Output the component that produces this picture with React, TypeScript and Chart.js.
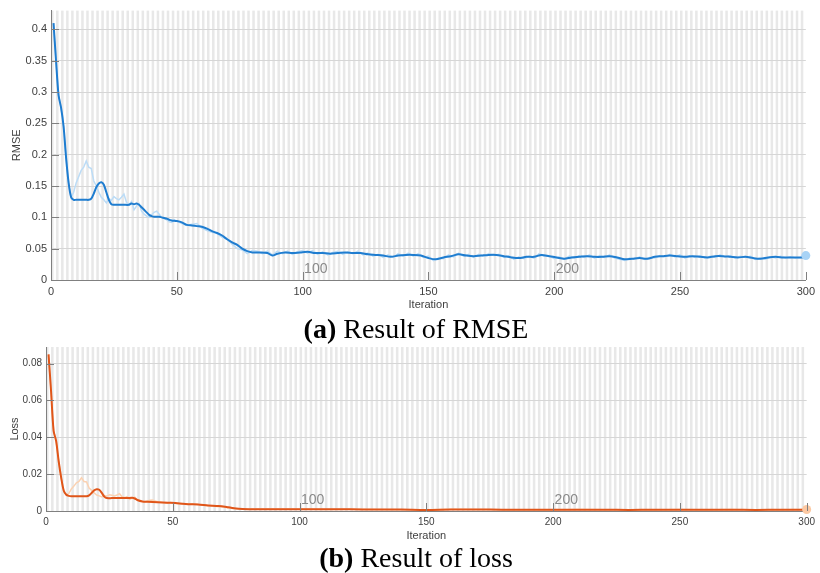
import React, { useEffect, useRef } from "react";
import { Chart, registerables } from "chart.js";
Chart.register(...registerables);

// ---------- data ----------
const xTicks = [0, 50, 100, 150, 200, 250, 300];
const rmseTicks = [0, 0.05, 0.1, 0.15, 0.2, 0.25, 0.3, 0.35, 0.4];
const lossTicks = [0, 0.02, 0.04, 0.06, 0.08];
const epochMarks = [100, 200];

// RMSE smoothed [iteration, value]
const rmseSmooth: number[][] = [
  [1, 0.41], [2, 0.35], [3, 0.295], [4, 0.275], [5, 0.245], [6, 0.195], [7, 0.155], [8, 0.132], [9, 0.128],
  [10, 0.128], [11, 0.128], [12, 0.128], [13, 0.128], [14, 0.128], [15, 0.128], [16, 0.13], [17, 0.138],
  [18, 0.148], [19, 0.154], [20, 0.156], [21, 0.152], [22, 0.14], [23, 0.128], [24, 0.121], [25, 0.12],
  [27, 0.12], [29, 0.12], [31, 0.12], [32, 0.122], [33, 0.121], [34, 0.122], [35, 0.12], [36, 0.116],
  [37, 0.112], [38, 0.108], [39, 0.104], [40, 0.102], [41, 0.101], [43, 0.101], [44, 0.1], [45, 0.099],
  [46, 0.098], [47, 0.096], [48, 0.095], [50, 0.094], [52, 0.092], [54, 0.088], [56, 0.087], [58, 0.086],
  [60, 0.085], [62, 0.082], [64, 0.078], [66, 0.075], [68, 0.071], [70, 0.065], [72, 0.06], [74, 0.056],
  [76, 0.05], [78, 0.046], [80, 0.044], [83, 0.044], [86, 0.043], [88, 0.039], [90, 0.042], [93, 0.044],
  [96, 0.043], [99, 0.044], [102, 0.045], [105, 0.043], [108, 0.043], [111, 0.042], [114, 0.043],
  [117, 0.044], [120, 0.043], [123, 0.043], [126, 0.041], [129, 0.04], [132, 0.039], [135, 0.037],
  [138, 0.039], [141, 0.04], [144, 0.04], [147, 0.039], [150, 0.035], [153, 0.033], [156, 0.036],
  [159, 0.038], [162, 0.041], [165, 0.039], [168, 0.038], [171, 0.039], [174, 0.04], [177, 0.04],
  [180, 0.038], [183, 0.036], [186, 0.035], [189, 0.037], [192, 0.037], [195, 0.04], [198, 0.038],
  [201, 0.036], [204, 0.034], [207, 0.036], [210, 0.037], [213, 0.038], [216, 0.037], [219, 0.037],
  [222, 0.038], [225, 0.036], [228, 0.033], [231, 0.034], [234, 0.035], [237, 0.034], [240, 0.037],
  [243, 0.038], [246, 0.039], [249, 0.038], [252, 0.037], [255, 0.038], [258, 0.037], [261, 0.036],
  [264, 0.038], [267, 0.038], [270, 0.037], [273, 0.036], [276, 0.037], [279, 0.035], [282, 0.034],
  [285, 0.036], [288, 0.037], [291, 0.036], [294, 0.036], [297, 0.036], [300, 0.036],
];

// RMSE raw [iteration, value]
const rmseRaw: number[][] = [
  [1, 0.41], [2, 0.35], [3, 0.295], [4, 0.275], [5, 0.245], [6, 0.195], [7, 0.155], [8, 0.132],
  [9, 0.14], [10, 0.155], [11, 0.165], [12, 0.175], [13, 0.18], [14, 0.19], [15, 0.18], [16, 0.178],
  [17, 0.158], [18, 0.15], [19, 0.14], [20, 0.132], [21, 0.128], [22, 0.123], [23, 0.13], [24, 0.127],
  [25, 0.133], [26, 0.13], [27, 0.128], [28, 0.132], [29, 0.137], [30, 0.124], [31, 0.12], [32, 0.125],
  [33, 0.112], [34, 0.118], [35, 0.122], [36, 0.11], [37, 0.105], [38, 0.102], [39, 0.1], [40, 0.104],
  [41, 0.108], [42, 0.11], [43, 0.105], [44, 0.1], [45, 0.098], [46, 0.096], [47, 0.093], [48, 0.092],
  [49, 0.096], [50, 0.094], [52, 0.09], [54, 0.087], [56, 0.089], [58, 0.09], [60, 0.083], [62, 0.079],
  [64, 0.076], [66, 0.074], [68, 0.068], [70, 0.066], [72, 0.057], [74, 0.05], [76, 0.048], [78, 0.042],
  [80, 0.047], [82, 0.046], [84, 0.042], [86, 0.046], [88, 0.04], [90, 0.046], [92, 0.042], [94, 0.046],
  [96, 0.041], [98, 0.045], [100, 0.047], [102, 0.043], [104, 0.047], [106, 0.041], [108, 0.045],
  [110, 0.04], [112, 0.044], [114, 0.046], [116, 0.041], [118, 0.045], [120, 0.042], [122, 0.046],
  [124, 0.04], [126, 0.043], [128, 0.038], [130, 0.041], [132, 0.036], [134, 0.04], [136, 0.036],
  [138, 0.042], [140, 0.038], [142, 0.043], [144, 0.038], [146, 0.042], [148, 0.036], [150, 0.038],
  [152, 0.031], [154, 0.035], [156, 0.034], [158, 0.04], [160, 0.037], [162, 0.043], [164, 0.038],
  [166, 0.041], [168, 0.036], [170, 0.041], [172, 0.038], [174, 0.042], [176, 0.039], [178, 0.041],
  [180, 0.036], [182, 0.039], [184, 0.033], [186, 0.037], [188, 0.034], [190, 0.038], [192, 0.035],
  [194, 0.042], [196, 0.038], [198, 0.039], [200, 0.034], [202, 0.037], [204, 0.033], [206, 0.038],
  [208, 0.035], [210, 0.039], [212, 0.036], [214, 0.04], [216, 0.035], [218, 0.039], [220, 0.036],
  [222, 0.04], [224, 0.035], [226, 0.033], [228, 0.031], [230, 0.035], [232, 0.033], [234, 0.037],
  [236, 0.033], [238, 0.036], [240, 0.035], [242, 0.039], [244, 0.037], [246, 0.041], [248, 0.037],
  [250, 0.04], [252, 0.035], [254, 0.039], [256, 0.036], [258, 0.039], [260, 0.035], [262, 0.038],
  [264, 0.036], [266, 0.04], [268, 0.037], [270, 0.039], [272, 0.035], [274, 0.038], [276, 0.036],
  [278, 0.038], [280, 0.033], [282, 0.035], [284, 0.033], [286, 0.037], [288, 0.035], [290, 0.038],
  [292, 0.035], [294, 0.037], [296, 0.035], [298, 0.036], [300, 0.039],
];
const rmseFinal: number[][] = [[300, 0.039]];

// Loss smoothed [iteration, value]
const lossSmooth: number[][] = [
  [1, 0.085], [2, 0.065], [3, 0.0435], [4, 0.038], [5, 0.027], [6, 0.018], [7, 0.011], [8, 0.0088],
  [9, 0.0082], [10, 0.008], [12, 0.008], [14, 0.008], [16, 0.008], [17, 0.0085], [18, 0.0098],
  [19, 0.0112], [20, 0.0118], [21, 0.0115], [22, 0.0098], [23, 0.0078], [24, 0.007], [26, 0.007],
  [28, 0.007], [30, 0.007], [32, 0.007], [34, 0.0072], [35, 0.0068], [36, 0.006], [38, 0.0052],
  [40, 0.005], [44, 0.0048], [48, 0.0045], [52, 0.0042], [56, 0.0037], [60, 0.0035], [64, 0.003],
  [68, 0.0027], [72, 0.002], [76, 0.0012], [80, 0.001], [90, 0.0009], [100, 0.001], [110, 0.0009],
  [120, 0.0009], [130, 0.0008], [140, 0.0008], [150, 0.0006], [160, 0.0008], [170, 0.0008],
  [180, 0.0007], [190, 0.0007], [200, 0.0007], [210, 0.0007], [220, 0.0007], [230, 0.0006],
  [240, 0.0007], [250, 0.0007], [260, 0.0007], [270, 0.0007], [280, 0.0006], [290, 0.0007], [300, 0.0007],
];

// Loss raw [iteration, value]
const lossRaw: number[][] = [
  [1, 0.085], [2, 0.065], [3, 0.0435], [4, 0.038], [5, 0.027], [6, 0.018], [7, 0.011], [8, 0.0088],
  [9, 0.0095], [10, 0.012], [11, 0.0135], [12, 0.0153], [13, 0.016], [14, 0.018], [15, 0.016],
  [16, 0.0158], [17, 0.0125], [18, 0.0112], [19, 0.0098], [20, 0.0087], [21, 0.0082], [22, 0.0076],
  [23, 0.0084], [24, 0.0081], [25, 0.0088], [26, 0.0085], [27, 0.0082], [28, 0.0087], [29, 0.0094],
  [30, 0.0077], [31, 0.0072], [32, 0.0078], [33, 0.0063], [34, 0.007], [35, 0.0075], [36, 0.006],
  [37, 0.0055], [38, 0.0052], [39, 0.005], [40, 0.0054], [41, 0.0058], [42, 0.006], [43, 0.0055],
  [44, 0.005], [45, 0.0048], [46, 0.0046], [47, 0.0043], [48, 0.0042], [49, 0.0046], [50, 0.0044],
  [52, 0.004], [54, 0.0038], [56, 0.004], [58, 0.004], [60, 0.0035], [62, 0.0031], [64, 0.0029],
  [66, 0.0027], [68, 0.0023], [70, 0.0022], [72, 0.0016], [74, 0.0013], [76, 0.0012], [78, 0.0009],
  [80, 0.0011], [90, 0.0011], [100, 0.0011], [110, 0.0008], [120, 0.0009], [130, 0.0008],
  [140, 0.0007], [150, 0.0007], [160, 0.0009], [170, 0.0008], [180, 0.0007], [190, 0.0007],
  [200, 0.0006], [210, 0.0008], [220, 0.0007], [230, 0.0005], [240, 0.0006], [250, 0.0008],
  [260, 0.0006], [270, 0.0008], [280, 0.0005], [290, 0.0007], [300, 0.0008],
];
const lossFinal: number[][] = [[300, 0.0008]];

// ---------- styling ----------
const TEXT = "#404040";
const AXIS = "#808080";
const FONT = "'Liberation Sans', Arial, sans-serif";

const decor = {
  id: "decor",
  beforeDraw(chart: any, _a: any, opts: any) {
    const { ctx, chartArea: a, scales } = chart;
    const x = scales.x;
    ctx.save();
    ctx.fillStyle = "#ffffff";
    ctx.fillRect(a.left, a.top, a.right - a.left, a.bottom - a.top);
    ctx.fillStyle = opts.stripe;
    for (let i = x.min; i < x.max; i += 2) {
      const x0 = x.getPixelForValue(i);
      const x1 = x.getPixelForValue(i + 1);
      ctx.fillRect(x0, a.top, x1 - x0, a.bottom - a.top);
    }
    ctx.restore();
  },
  afterDraw(chart: any, _a: any, opts: any) {
    const { ctx, chartArea: a, scales } = chart;
    const x = scales.x, y = scales.y;
    ctx.save();
    ctx.fillStyle = "#8a8a8a";
    ctx.font = `14px ${FONT}`;
    ctx.textAlign = "left";
    ctx.textBaseline = "alphabetic";
    for (const e of opts.epochs) {
      ctx.fillText(String(e), x.getPixelForValue(e) + 1.5, a.bottom - 7);
    }
    ctx.strokeStyle = AXIS;
    ctx.lineWidth = 1;
    ctx.beginPath();
    for (const t of x.ticks) {
      const px = Math.round(x.getPixelForValue(t.value)) + 0.5;
      ctx.moveTo(px, a.bottom);
      ctx.lineTo(px, a.bottom - 8);
    }
    for (const t of y.ticks) {
      const py = Math.round(y.getPixelForValue(t.value)) + 0.5;
      ctx.moveTo(a.left, py);
      ctx.lineTo(a.left + 8, py);
    }
    ctx.stroke();
    ctx.restore();
  },
};

function makeConfig(p: {
  smooth: number[][]; raw: number[][]; fin: number[][];
  dark: string; light: string; marker: string;
  yMax: number; yTicks: number[]; yTitle: string; yWidth: number;
  padLeft: number; padTop: number; padRight: number; tickSize: number; titlePad: number;
}) {
  const toPts = (arr: number[][]) => arr.map(([ix, v]) => ({ x: ix, y: v }));
  return {
    type: "line",
    data: {
      datasets: [
        { data: toPts(p.fin), showLine: false, pointRadius: 4.5, pointBackgroundColor: p.marker, pointBorderWidth: 0, order: 0, clip: false },
        { data: toPts(p.smooth), borderColor: p.dark, borderWidth: 2, pointRadius: 0, tension: 0.3, order: 1 },
        { data: toPts(p.raw), borderColor: p.light, borderWidth: 1.5, pointRadius: 0, tension: 0, order: 2 },
      ],
    },
    options: {
      animation: false,
      responsive: false,
      devicePixelRatio: 1,
      layout: { padding: { left: p.padLeft, top: p.padTop, right: p.padRight, bottom: 0 } },
      plugins: {
        legend: { display: false },
        tooltip: { enabled: false },
        decor: { stripe: "#e8e8e8", epochs: epochMarks },
      },
      scales: {
        x: {
          type: "linear",
          min: 0,
          max: 300,
          afterBuildTicks: (s: any) => { s.ticks = xTicks.map((v) => ({ value: v })); },
          afterFit: (s: any) => { s.height = 36; },
          grid: { display: false, drawTicks: false },
          border: { display: true, color: AXIS, width: 1 },
          ticks: { color: TEXT, font: { family: FONT, size: p.tickSize }, padding: 5, maxRotation: 0, autoSkip: false },
          title: { display: true, text: "Iteration", color: TEXT, font: { family: FONT, size: 11 }, padding: { top: 0, bottom: 4 } },
        },
        y: {
          type: "linear",
          min: 0,
          max: p.yMax,
          afterBuildTicks: (s: any) => { s.ticks = p.yTicks.map((v) => ({ value: v })); },
          afterFit: (s: any) => { s.width = p.yWidth; },
          grid: { color: "#d6d6d6", drawTicks: false },
          border: { display: true, color: AXIS, width: 1 },
          ticks: {
            color: TEXT, font: { family: FONT, size: p.tickSize }, padding: 4,
            callback: (v: number) => String(Number(v.toFixed(3))),
          },
          title: { display: true, text: p.yTitle, color: TEXT, font: { family: FONT, size: 11 }, padding: { top: p.titlePad, bottom: 0 } },
        },
      },
    },
    plugins: [decor],
  } as any;
}

export default function App() {
  const topRef = useRef<HTMLCanvasElement>(null);
  const botRef = useRef<HTMLCanvasElement>(null);

  useEffect(() => {
    const c1 = new Chart(topRef.current!, makeConfig({
      smooth: rmseSmooth, raw: rmseRaw, fin: rmseFinal,
      dark: "#1f7dd0", light: "#bcdcf6", marker: "#a8d3f6",
      yMax: 0.43, yTicks: rmseTicks, yTitle: "RMSE", yWidth: 45,
      padLeft: 6, padTop: 8, padRight: 12, tickSize: 11, titlePad: 4,
    }));
    const c2 = new Chart(botRef.current!, makeConfig({
      smooth: lossSmooth, raw: lossRaw, fin: lossFinal,
      dark: "#e0561a", light: "#fbd2b2", marker: "#fcc9a3",
      yMax: 0.089, yTicks: lossTicks, yTitle: "Loss", yWidth: 41,
      padLeft: 5, padTop: 8, padRight: 12, tickSize: 10, titlePad: 3,
    }));
    return () => { c1.destroy(); c2.destroy(); };
  }, []);

  const caption: React.CSSProperties = {
    position: "absolute", left: 0, width: 832, textAlign: "center",
    fontFamily: "'Liberation Serif', 'Times New Roman', serif", fontSize: 28, lineHeight: "28px",
    color: "#000", whiteSpace: "nowrap",
  };

  return (
    <div style={{ position: "absolute", left: 0, top: 0, width: 820, height: 573, background: "#fff", overflow: "hidden" }}>
      <canvas ref={topRef} width={820} height={316} style={{ position: "absolute", left: 0, top: 0 }} />
      <div style={{ ...caption, top: 315 }}><b>(a)</b> Result of RMSE</div>
      <canvas ref={botRef} width={820} height={210} style={{ position: "absolute", left: 0, top: 337 }} />
      <div style={{ ...caption, top: 544 }}><b>(b)</b> Result of loss</div>
    </div>
  );
}
